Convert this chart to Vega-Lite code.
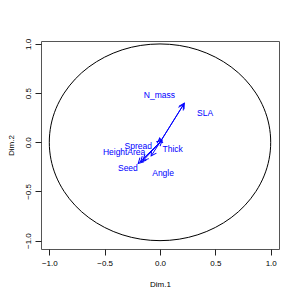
{
  "$schema": "https://vega.github.io/schema/vega-lite/v6.json",
  "width": 238,
  "height": 208,
  "autosize": {"type": "none"},
  "padding": {"left": 41, "top": 41, "right": 21, "bottom": 51},
  "background": "white",
  "config": {
    "view": {"stroke": "#555555", "strokeWidth": 1},
    "axis": {
      "domain": false, "grid": false, "tickSize": 6, "tickColor": "#222222",
      "labelColor": "#000000", "titleColor": "#000000",
      "labelFont": "Liberation Sans", "titleFont": "Liberation Sans",
      "labelFontSize": 8, "titleFontSize": 8, "titleFontWeight": "normal"
    }
  },
  "datasets": {
    "circle": [
      {"o": 0, "cx": 1, "cy": 0}, {"o": 1, "cx": 0.985, "cy": 0.174}, {"o": 2, "cx": 0.94, "cy": 0.342},
      {"o": 3, "cx": 0.866, "cy": 0.5}, {"o": 4, "cx": 0.766, "cy": 0.643}, {"o": 5, "cx": 0.643, "cy": 0.766},
      {"o": 6, "cx": 0.5, "cy": 0.866}, {"o": 7, "cx": 0.342, "cy": 0.94}, {"o": 8, "cx": 0.174, "cy": 0.985},
      {"o": 9, "cx": 0, "cy": 1}, {"o": 10, "cx": -0.174, "cy": 0.985}, {"o": 11, "cx": -0.342, "cy": 0.94},
      {"o": 12, "cx": -0.5, "cy": 0.866}, {"o": 13, "cx": -0.643, "cy": 0.766}, {"o": 14, "cx": -0.766, "cy": 0.643},
      {"o": 15, "cx": -0.866, "cy": 0.5}, {"o": 16, "cx": -0.94, "cy": 0.342}, {"o": 17, "cx": -0.985, "cy": 0.174},
      {"o": 18, "cx": -1, "cy": 0}, {"o": 19, "cx": -0.985, "cy": -0.174}, {"o": 20, "cx": -0.94, "cy": -0.342},
      {"o": 21, "cx": -0.866, "cy": -0.5}, {"o": 22, "cx": -0.766, "cy": -0.643}, {"o": 23, "cx": -0.643, "cy": -0.766},
      {"o": 24, "cx": -0.5, "cy": -0.866}, {"o": 25, "cx": -0.342, "cy": -0.94}, {"o": 26, "cx": -0.174, "cy": -0.985},
      {"o": 27, "cx": 0, "cy": -1}, {"o": 28, "cx": 0.174, "cy": -0.985}, {"o": 29, "cx": 0.342, "cy": -0.94},
      {"o": 30, "cx": 0.5, "cy": -0.866}, {"o": 31, "cx": 0.643, "cy": -0.766}, {"o": 32, "cx": 0.766, "cy": -0.643},
      {"o": 33, "cx": 0.866, "cy": -0.5}, {"o": 34, "cx": 0.94, "cy": -0.342}, {"o": 35, "cx": 0.985, "cy": -0.174}
    ],
    "vars": [
      {"var": "N_mass", "x": 0.22, "y": 0.397, "lx": -0.005, "ly": 0.482},
      {"var": "SLA", "x": 0.213, "y": 0.385, "lx": 0.407, "ly": 0.298},
      {"var": "Spread", "x": -0.003, "y": 0.044, "lx": -0.197, "ly": -0.034},
      {"var": "Thick", "x": 0.019, "y": 0.019, "lx": 0.114, "ly": -0.065},
      {"var": "Height", "x": -0.197, "y": -0.215, "lx": -0.405, "ly": -0.095},
      {"var": "Area", "x": -0.152, "y": -0.185, "lx": -0.215, "ly": -0.095},
      {"var": "Seed", "x": -0.175, "y": -0.2, "lx": -0.29, "ly": -0.263},
      {"var": "Angle", "x": -0.08, "y": -0.139, "lx": 0.028, "ly": -0.31}
    ]
  },
  "layer": [
    {
      "data": {"name": "circle"},
      "mark": {"type": "line", "interpolate": "cardinal-closed", "stroke": "#000000", "strokeWidth": 1},
      "encoding": {
        "x": {"field": "cx", "type": "quantitative", "scale": {"domain": [-1.075, 1.075], "nice": false, "zero": false},
          "axis": {"values": [-1, -0.5, 0, 0.5, 1], "format": ".1f", "labelExpr": "replace(datum.label, '-', '\u2212')", "title": "Dim.1", "labelPadding": 4, "titlePadding": 13}},
        "y": {"field": "cy", "type": "quantitative", "scale": {"domain": [-1.085, 1.03], "nice": false, "zero": false},
          "axis": {"values": [-1, -0.5, 0, 0.5, 1], "format": ".1f", "labelExpr": "replace(datum.label, '-', '\u2212')", "title": "Dim.2", "labelAngle": -90, "labelAlign": "center", "labelBaseline": "bottom", "labelPadding": 3, "titlePadding": 9}},
        "order": {"field": "o", "type": "quantitative"}
      }
    },
    {
      "data": {"name": "vars"},
      "mark": {"type": "rule", "stroke": "#0000FF", "strokeWidth": 1},
      "encoding": {
        "x": {"field": "x", "type": "quantitative"},
        "y": {"field": "y", "type": "quantitative"},
        "x2": {"datum": 0},
        "y2": {"datum": 0}
      }
    },
    {
      "data": {"name": "vars"},
      "transform": [{"calculate": "atan2(datum.x * 110.85, datum.y * 98.35) * 180 / PI", "as": "ang"}],
      "mark": {"type": "point", "shape": "M-0.55,1L0,0L0.55,1", "filled": false, "stroke": "#0000FF", "strokeWidth": 1, "size": 110, "opacity": 1},
      "encoding": {
        "x": {"field": "x", "type": "quantitative"},
        "y": {"field": "y", "type": "quantitative"},
        "angle": {"field": "ang", "type": "quantitative", "scale": null}
      }
    },
    {
      "data": {"name": "vars"},
      "mark": {"type": "text", "color": "#0000FF", "font": "Liberation Sans", "fontSize": 8.5, "align": "center", "baseline": "middle"},
      "encoding": {
        "x": {"field": "lx", "type": "quantitative"},
        "y": {"field": "ly", "type": "quantitative"},
        "text": {"field": "var"}
      }
    }
  ]
}
